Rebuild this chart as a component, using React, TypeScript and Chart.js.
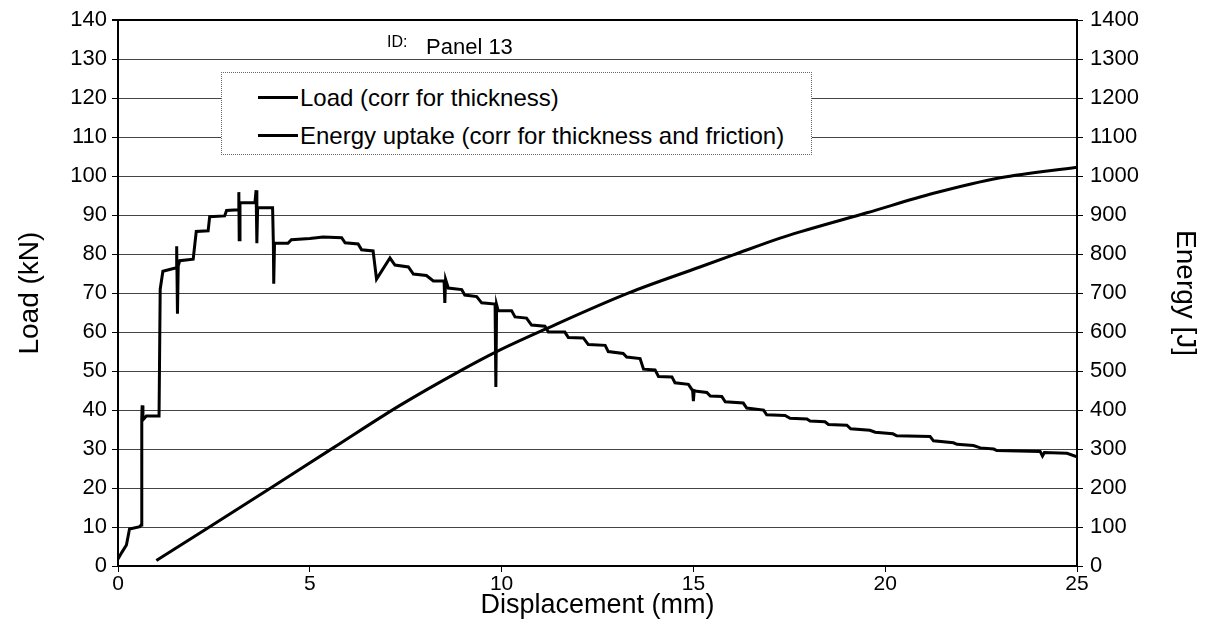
import React, { useEffect, useRef } from "react";
import { Chart, registerables } from "chart.js";

Chart.register(...registerables);

// Displacement (mm) / Load (kN) for the load curve
const loadX = [
  0, 0.1, 0.22, 0.3, 0.57, 0.6, 0.62, 0.63, 0.65, 0.74, 1.07, 1.1, 1.17, 1.52, 1.53, 1.55, 1.57,
  1.61, 1.96, 2.04, 2.35, 2.39, 2.78, 2.83, 3.14, 3.15, 3.16, 3.18, 3.57, 3.6, 3.62, 3.64, 4.03,
  4.05, 4.06, 4.08, 4.43, 4.52, 5.0, 5.35, 5.83, 5.92, 6.26, 6.35, 6.65, 6.74, 7.09, 7.22, 7.57,
  7.7, 8.04, 8.22, 8.5, 8.52, 8.54, 8.61, 8.96, 9.04, 9.35, 9.48, 9.83, 9.85, 9.87, 9.91, 10.26,
  10.35, 10.65, 10.78, 11.13, 11.22, 11.65, 11.74, 12.13, 12.26, 12.7, 12.78, 13.17, 13.26, 13.61,
  13.7, 14.0, 14.09, 14.44, 14.52, 14.87, 14.98, 15.0, 15.02, 15.09, 15.35, 15.44, 15.74, 15.83,
  16.3, 16.39, 16.83, 16.91, 17.39, 17.52, 17.96, 18.04, 18.43, 18.52, 19.0, 19.1, 19.6, 19.74,
  20.2, 20.3, 21.17, 21.26, 21.78, 21.87, 22.3, 22.48, 22.83, 22.91, 24.04, 24.1, 24.15, 24.74, 25.0,
];
const loadY = [
  1.8, 3.5, 5.4, 9.5, 10.1, 10.5, 38, 41.2, 37.5, 38.5, 38.5, 71, 75.6, 76.5, 82, 64.7, 77,
  78.3, 78.7, 85.8, 86, 89.6, 89.8, 91.2, 91.4, 95.9, 83.7, 93.2, 93.2, 96.4, 82.8, 91.9, 91.9,
  82.8, 72.4, 82.8, 82.8, 83.7, 84, 84.4, 84.2, 82.9, 82.6, 81.1, 80.8, 73.6, 79, 77.2, 76.7,
  74.9, 74.5, 73.1, 73.1, 67.5, 73.5, 71.3, 70.9, 69.5, 69.1, 67.5, 67.2, 45.9, 67, 65.5, 65.5,
  63.9, 63.6, 61.8, 61.5, 60, 60, 58.6, 58.5, 56.8, 56.6, 55, 54.5, 53.6, 53.2,
  50.5, 50.3, 48.6, 48.5, 47, 46.6, 45, 42.3, 45, 44.8, 44.5, 43.6, 43.5, 42.1,
  41.8, 40.5, 40, 38.8, 38.6, 37.9, 37.7, 37.2, 37, 36.3, 36.1, 35.2, 34.8, 34.3,
  33.9, 33.4, 33.2, 32.1, 31.6, 31.2, 30.9, 30.3, 30, 29.6, 29.4, 28.2, 29.1, 28.9, 28,
];

// Displacement (mm) / Energy (J) for the energy curve
const energyX = [1.0, 2.3, 3.96, 5.61, 7.35, 8.91, 9.87, 11.17, 13.3, 15.17, 16.04, 17.26, 17.78, 19.52, 21.26, 23.0, 25.0];
const energyY = [14, 95, 199, 303, 412, 500, 550, 609, 700, 767, 798, 841, 857, 906, 956, 996, 1023];

const loadLabel = "Load (corr for thickness)";
const energyLabel = "Energy uptake (corr for thickness and friction)";
const idLabel = "ID:";
const panelLabel = "Panel 13";

const FONT = "'Liberation Sans', Arial, Helvetica, sans-serif";

export default function App() {
  const ref = useRef<HTMLCanvasElement | null>(null);

  useEffect(() => {
    const canvas = ref.current;
    if (!canvas) return;
    const plain = (v: any) => String(v);
    const chart = new Chart(canvas, {
      type: "line",
      data: {
        datasets: [
          {
            label: loadLabel,
            data: loadX.map((x, i) => ({ x, y: loadY[i] })),
            yAxisID: "y",
            borderColor: "#000",
            backgroundColor: "#000",
            borderWidth: 3,
            pointRadius: 0,
            tension: 0,
            fill: false,
          },
          {
            label: energyLabel,
            data: energyX.map((x, i) => ({ x, y: energyY[i] })),
            yAxisID: "y1",
            borderColor: "#000",
            backgroundColor: "#000",
            borderWidth: 3,
            pointRadius: 0,
            cubicInterpolationMode: "monotone",
            fill: false,
          },
        ],
      },
      options: {
        responsive: false,
        animation: false,
        layout: { padding: { top: 17, left: 0, right: 0, bottom: 0 } },
        plugins: { legend: { display: false }, tooltip: { enabled: false } },
        scales: {
          x: {
            type: "linear",
            min: 0,
            max: 25,
            ticks: { stepSize: 5, color: "#000", font: { family: FONT, size: 21 }, padding: 0, callback: plain },
            grid: { drawOnChartArea: false, color: "#000", tickLength: 6 },
            border: { color: "#000", width: 2 },
            title: {
              display: true,
              text: "Displacement (mm)",
              color: "#000",
              font: { family: FONT, size: 27, lineHeight: 1 },
              padding: { top: 0, bottom: 2 },
            },
            afterFit: (s: any) => {
              s.height = 55;
            },
          },
          y: {
            type: "linear",
            position: "left",
            min: 0,
            max: 140,
            ticks: { stepSize: 10, color: "#000", font: { family: FONT, size: 22 }, padding: 5, callback: plain },
            grid: {
              color: (c: any) => (c.tick && c.tick.value === 140 ? "#000" : "#444"),
              lineWidth: (c: any) => (c.tick && c.tick.value === 140 ? 2 : 1),
              tickColor: "#000",
              tickLength: 6,
            },
            border: { color: "#000", width: 2 },
            title: {
              display: true,
              text: "Load (kN)",
              color: "#000",
              font: { family: FONT, size: 28 },
              padding: { top: 13, bottom: 0 },
            },
            afterFit: (s: any) => {
              s.width = 118;
            },
          },
          y1: {
            type: "linear",
            position: "right",
            min: 0,
            max: 1400,
            ticks: { stepSize: 100, color: "#000", font: { family: FONT, size: 22 }, padding: 7, callback: plain },
            grid: { drawOnChartArea: false, color: "#000", tickLength: 6 },
            border: { color: "#000", width: 2 },
            title: {
              display: true,
              text: "Energy [J]",
              color: "#000",
              font: { family: FONT, size: 28 },
              padding: { top: 6, bottom: 0 },
            },
            afterFit: (s: any) => {
              s.width = 131;
            },
          },
        },
      },
    } as any);
    return () => chart.destroy();
  }, []);

  const lineSample: React.CSSProperties = {
    display: "inline-block",
    width: 40,
    height: 3,
    background: "#000",
    marginRight: 2,
    verticalAlign: "middle",
  };

  return (
    <div
      style={{
        position: "absolute",
        left: 0,
        top: 0,
        width: 1208,
        height: 621,
        background: "#fff",
        fontFamily: FONT,
        color: "#000",
      }}
    >
      <canvas ref={ref} width={1208} height={621} style={{ display: "block" }} />
      <div style={{ position: "absolute", left: 387, top: 33, fontSize: 16, lineHeight: "18px" }}>{idLabel}</div>
      <div style={{ position: "absolute", left: 426, top: 34, fontSize: 22, lineHeight: "26px" }}>{panelLabel}</div>
      <div
        style={{
          position: "absolute",
          left: 221,
          top: 72,
          width: 591,
          height: 83,
          boxSizing: "border-box",
          border: "1px dotted #666",
          background: "#fff",
          fontSize: 24,
        }}
      >
        <div style={{ position: "absolute", left: 36, top: 9, whiteSpace: "nowrap", lineHeight: "28px" }}>
          <span style={lineSample} />
          <span style={{ verticalAlign: "middle" }}>{loadLabel}</span>
        </div>
        <div style={{ position: "absolute", left: 36, top: 47, whiteSpace: "nowrap", lineHeight: "28px" }}>
          <span style={lineSample} />
          <span style={{ verticalAlign: "middle" }}>{energyLabel}</span>
        </div>
      </div>
    </div>
  );
}
